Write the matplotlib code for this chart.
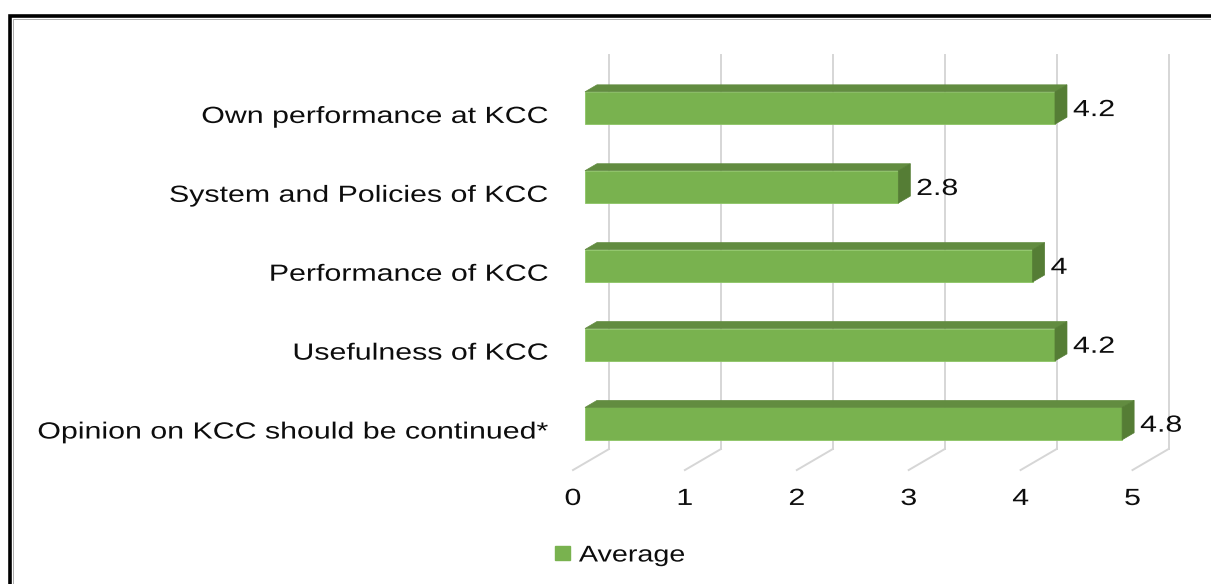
import matplotlib
matplotlib.use("Agg")
import matplotlib.pyplot as plt
from matplotlib.patches import Polygon, Rectangle, Patch
from matplotlib.lines import Line2D
from matplotlib.patheffects import AbstractPathEffect
from matplotlib.transforms import Affine2D
import numpy as np

# data
categories = [
    "Own performance at KCC",
    "System and Policies of KCC",
    "Performance of KCC",
    "Usefulness of KCC",
    "Opinion on KCC should be continued*",
]
average = [4.2, 2.8, 4.0, 4.2, 4.8]
x_ticks = [0, 1, 2, 3, 4, 5]
series_name = "Average"

# colours
front_col = "#79B24F"
top_col = "#628C40"
side_col = "#557D35"
grid_col = "#D6D6D6"
text_col = "#0D0D0D"

plt.rcParams["font.family"] = ["Liberation Sans", "DejaVu Sans"]
FS = 16.8
SX = 1.3  # the pasted picture is stretched sideways, text too


class Stretch(AbstractPathEffect):
    """widen the glyphs around the anchor side of the text"""

    def __init__(self, sx, ha="left"):
        super().__init__()
        self.sx = sx
        self.ha = ha

    def draw_path(self, renderer, gc, tpath, affine, rgbFace=None):
        ext = tpath.get_extents()
        x0 = {"left": ext.x0, "right": ext.x1, "center": (ext.x0 + ext.x1) / 2}[self.ha]
        st = Affine2D().translate(-x0, 0).scale(self.sx, 1).translate(x0, 0)
        renderer.draw_path(gc, tpath, st + affine, rgbFace)


W, H = 1211, 584
fig = plt.figure(figsize=(W / 100, H / 100), dpi=100)

# axes placed so that the 3d-ish frame lands where Excel put it
ax = fig.add_axes([560 / W, (H - 480) / H, 620 / W, 440 / H])
ax.set_xlim(-25 / 111.9, 595 / 111.9)
ax.set_ylim(372 / 78.9, -68 / 78.9)
for s in ax.spines.values():
    s.set_visible(False)

# depth vector (floor front -> back wall), in data units
DX = 36 / 111.9
DY = -21 / 78.9
bar_h = 0.41
y_top, y_floor = -0.5, 4.5
ypos = np.arange(len(categories))

# back wall gridlines + floor lines
for v in x_ticks:
    bx, by = v + 2 * DX / 3, y_floor + 2 * DY / 3
    ax.add_line(Line2D([bx, bx], [y_top + 2 * DY / 3, by], color=grid_col, lw=1.4, zorder=1, clip_on=False))
    ax.add_line(Line2D([bx, v - DX / 3], [by, y_floor - DY / 3], color=grid_col, lw=1.4, zorder=1, clip_on=False))

# front faces
ax.barh(ypos, average, height=bar_h, color=front_col, edgecolor="#8CC464", linewidth=0.6, zorder=3)

# top and side faces + value labels
for c, v in zip(ypos, average):
    t, b = c - bar_h / 2, c + bar_h / 2
    dx, dy = DX / 3, DY / 3
    ax.add_patch(Polygon([(0, t), (v, t), (v + dx, t + dy), (dx, t + dy)],
                         closed=True, facecolor=top_col, edgecolor=top_col, lw=0.5, zorder=3))
    ax.add_patch(Polygon([(v, t), (v, b), (v + dx, b + dy), (v + dx, t + dy)],
                         closed=True, facecolor=side_col, edgecolor=side_col, lw=0.5, zorder=3))
    ax.text(v + dx + 0.055, c + 0.02, f"{v:g}", ha="left", va="center", fontsize=FS, color=text_col,
            zorder=4, path_effects=[Stretch(SX, "left")])

# axis labels
ax.set_yticks(ypos + 0.075, categories)
ax.set_xticks(np.array(x_ticks) - DX / 3, [str(t) for t in x_ticks])
ax.tick_params(axis="y", length=0, pad=8, labelsize=FS, labelcolor=text_col)
ax.tick_params(axis="x", length=0, pad=5, labelsize=FS, labelcolor=text_col)
for tk in ax.yaxis.get_major_ticks():
    tk.label1.set_path_effects([Stretch(SX, "right")])
for tk in ax.xaxis.get_major_ticks():
    tk.label1.set_path_effects([Stretch(SX, "center")])

# legend
handle = Patch(facecolor=front_col, edgecolor=front_col)
leg = fig.legend([handle], [series_name], loc="center left", bbox_to_anchor=(555 / W, 1 - 555 / H),
                 frameon=False, fontsize=16.4, handlelength=0.65, handleheight=0.57,
                 handletextpad=0.4, borderpad=0, borderaxespad=0)
for txt in leg.get_texts():
    txt.set_color(text_col)
    txt.set_path_effects([Stretch(1.26, "left")])

# outer frame of the pasted chart
fig.patches.append(Rectangle((10.5 / W, -0.05), 1.1, 1 - 16 / H + 0.05, transform=fig.transFigure,
                             fill=False, edgecolor="black", lw=2.6))
fig.patches.append(Rectangle((13.2 / W, -0.05), 1.1, 1 - 18.7 / H + 0.05, transform=fig.transFigure,
                             fill=False, edgecolor="#A0A0A0", lw=0.6))

fig.savefig("out.png", dpi=100)
